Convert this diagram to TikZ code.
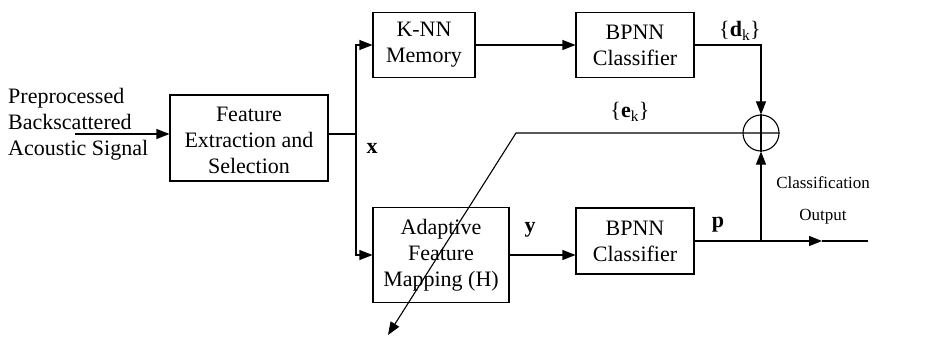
\documentclass[tikz,border=0pt]{standalone}
\usepackage{fontspec}
\setmainfont{Liberation Serif}
\usetikzlibrary{arrows.meta}
\tikzset{
	blk/.style={draw, line width=1.1pt, align=center, inner sep=2pt},
	wire/.style={line width=1.1pt},
	lnk/.style={wire, -{Triangle[length=13pt,width=10pt]}}
}
\begin{document}
\begin{tikzpicture}[x=1pt, y=-1pt, font=\fontsize{22}{26}\selectfont]
	\useasboundingbox (0,0) rectangle (930,337);
	\node[align=left, anchor=west, inner sep=0pt] (src) at (8,124) {Preprocessed\\Backscattered\\Acoustic Signal};
	\node[blk, minimum width=158pt, minimum height=86pt] (fes) at (249,138) {\\[-6pt]Feature\\Extraction and\\Selection};
	\node[blk, minimum width=102pt, minimum height=65pt] (knn) at (424,45) {K-NN\\Memory};
	\node[blk, minimum width=118pt, minimum height=65pt] (bp1) at (635,45) {BPNN\\Classifier};
	\node[blk, minimum width=136pt, minimum height=95pt] (afm) at (441,255) {Adaptive\\Feature\\Mapping (H)};
	\node[blk, minimum width=118pt, minimum height=66pt] (bp2) at (635,241) {BPNN\\Classifier};
	\node[draw, circle, wire, minimum size=36pt, inner sep=0pt] (sum) at (761,133) {};

	\coordinate (in) at (75,134);
	\coordinate (split) at (356,134);
	\coordinate (pj) at (sum |- bp2.east);
	\coordinate (outm) at (822,241);
	\coordinate (out) at (868,241);
	\coordinate (ebend) at (516,133);
	\coordinate (etip) at (388,335);

	\draw[lnk] (in) -- (in -| fes.west);
	\draw[wire] (split -| fes.east) -- (split);
	\draw[lnk] (split) |- (knn.west);
	\draw[lnk] (split) |- (afm.west);
	\draw[lnk] (knn) -- (bp1);
	\draw[lnk] (afm.east) -- (afm.east -| bp2.west);
	\draw[lnk] (bp1.east) -| (sum.north);
	\draw[wire] (sum.north) -- (sum.south);
	\draw[lnk] (sum.east) -- (ebend) -- (etip);
	\draw[lnk] (bp2.east) -- (outm);
	\draw[wire] (outm) -- (out);
	\draw[lnk] (pj) -- (sum.south);

	\node (xlab) at (372,148) {\textbf{x}};
	\node (ylab) at (530,230) {\textbf{y}};
	\node (plab) at (718,225) {\textbf{p}};
	\node (dlab) at (740,31) {\{\textbf{d}\textsubscript{k}\}};
	\node (elab) at (630,112) {\{\textbf{e}\textsubscript{k}\}};
	\node[align=center, font=\fontsize{17}{32}\selectfont] (outlab) at (823,200) {Classification\\Output};
\end{tikzpicture}
\end{document}
